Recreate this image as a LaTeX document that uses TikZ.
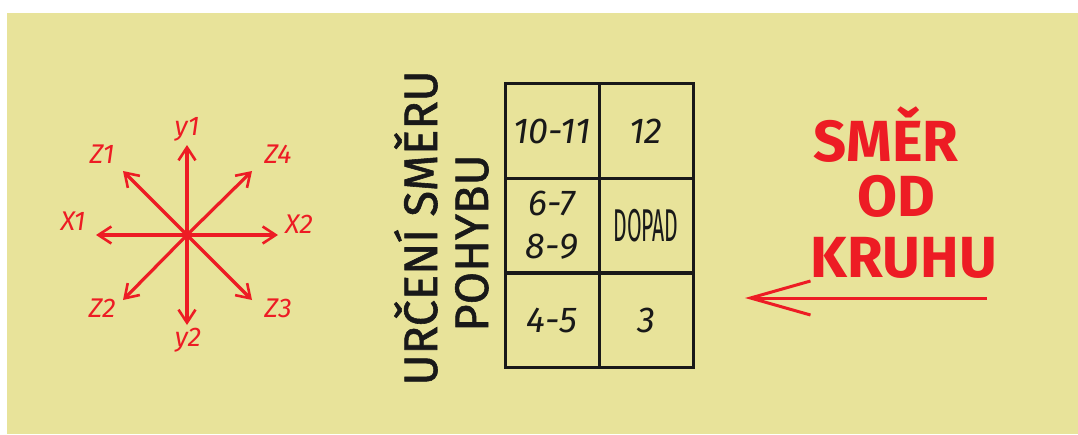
\documentclass[tikz,border=0pt]{standalone}
\usepackage{fontspec}
\setmainfont{Fira Sans}
\newfontfamily\titlefont[FakeBold=1.2]{Fira Sans}
\usetikzlibrary{arrows.meta}
\definecolor{bgyellow}{RGB}{232,227,154}
\definecolor{myred}{RGB}{237,28,36}
\definecolor{ink}{RGB}{25,25,25}
\tikzset{
  starline/.style={draw=myred, line width=3.2pt, -{Straight Barb[length=13pt,width=17pt,line width=2.6pt]}},
  starlabel/.style={text=myred, font=\fontsize{27}{27}\selectfont\itshape, inner sep=0pt},
  cell/.style={draw=ink, line width=3pt, minimum width=94pt, minimum height=94.5pt, inner sep=0pt, text=ink, font=\fontsize{36}{43}\selectfont\itshape, align=center},
  title/.style={text=ink, font=\fontsize{47}{47}\selectfont\titlefont, rotate=90, anchor=base, inner sep=0pt},
  bigred/.style={text=myred, font=\fontsize{58}{58}\selectfont\bfseries, inner sep=0pt},
}
\begin{document}
\begin{tikzpicture}[x=1pt,y=-1pt]
\useasboundingbox (0,0) rectangle (1078,434);
\fill[white] (0,0) rectangle (1078,434);
\fill[bgyellow] (7,13) rectangle (1078,434);

% star
\coordinate (c) at (187,235);
\coordinate (x1) at (96,235);
\coordinate (x2) at (278,235);
\coordinate (y1) at (187,145);
\coordinate (y2) at (187,325);
\coordinate (z1) at (123,171);
\coordinate (z4) at (252,171);
\coordinate (z2) at (123,300);
\coordinate (z3) at (252,300);
\foreach \e in {x1,x2,y1,y2,z1,z2,z3,z4} \draw[starline] (c) -- (\e);
\node[starlabel] (ly1) at (187,129) {y1};
\node[starlabel] (ly2) at (188,340) {y2};
\node[starlabel] (lx1) at (73,221) {X1};
\node[starlabel] (lx2) at (299,224) {X2};
\node[starlabel] (lz1) at (102,154) {Z1};
\node[starlabel] (lz4) at (278,154) {Z4};
\node[starlabel] (lz2) at (102,308) {Z2};
\node[starlabel] (lz3) at (278,308) {Z3};

% vertical title
\node[title] (t1) at (437,228) {URČENÍ SMĚRU};
\node[title] (t2) at (488,243) {POHYBU};

% table
\node[cell] (a1) at (552,131) {10-11};
\node[cell] (a2) at (646,131) {12};
\node[cell] (b1) at (552,225.5) {6-7\\8-9};
\node[cell, font=\fontsize{46}{46}\selectfont] (b2) at (646,225.5) {\scalebox{0.46}[1]{DOPAD}};
\node[cell] (c1) at (552,320.5) {4-5};
\node[cell] (c2) at (646,320.5) {3};

% red text
\node[bigred] (s1) at (886,135) {SMĚR};
\node[bigred] (s2) at (896,196) {OD};
\node[bigred] (s3) at (904,258) {KRUHU};

% big arrow
\coordinate (as) at (987,298);
\coordinate (ae) at (745,298);
\draw[myred, line width=3pt, -{Straight Barb[length=60pt,width=34pt,line width=3pt]}] (as) -- (ae);
\end{tikzpicture}
\end{document}
